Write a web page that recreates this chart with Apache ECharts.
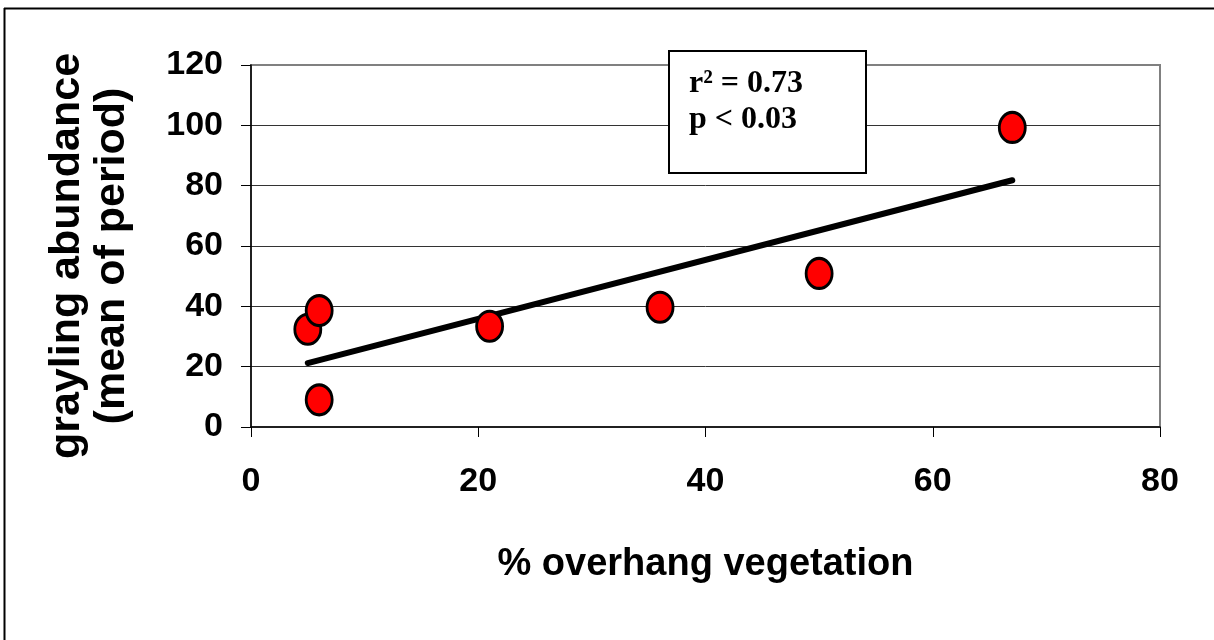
<!DOCTYPE html>
<html>
<head>
<meta charset="utf-8">
<script src="https://cdn.jsdelivr.net/npm/echarts@6/dist/echarts.min.js"></script>
<style>
html,body{margin:0;padding:0;background:#fff;}
#chart{width:1214px;height:640px;}
</style>
</head>
<body>
<div id="chart"></div>
<script>
// Data
const overhang = [5, 6, 6, 21, 36, 50, 67];             // % overhang vegetation
const grayling = [32.4, 38.6, 9, 33.4, 39.7, 50.9, 99.3]; // grayling abundance
const trendX = [5, 67];
const trendY = [21.2, 81.8];
const statsLines = ['r\u00B2 = 0.73', 'p < 0.03'];
const xTitle = '% overhang vegetation';
const yTitleLines = ['grayling abundance', '(mean of period)'];

const chart = echarts.init(document.getElementById('chart'), null, {renderer: 'canvas'});

const sansFont = "'Liberation Sans', Arial, sans-serif";

const option = {
  backgroundColor: '#fff',
  animation: false,
  grid: {
    left: 251, right: 54, top: 65, bottom: 213,
    show: true, borderColor: '#808080', borderWidth: 2, backgroundColor: 'transparent'
  },
  xAxis: {
    type: 'value', min: 0, max: 80, interval: 20,
    name: xTitle, nameLocation: 'middle', nameGap: 119,
    nameTextStyle: {fontFamily: sansFont, fontWeight: 'bold', fontSize: 38, color: '#000'},
    axisLine: {show: true, onZero: false, lineStyle: {color: '#000', width: 1.5}},
    axisTick: {show: true, inside: false, length: 10, lineStyle: {color: '#000', width: 1}},
    axisLabel: {margin: 38, fontFamily: sansFont, fontWeight: 'bold', fontSize: 34, color: '#000'},
    splitLine: {show: false}
  },
  yAxis: {
    type: 'value', min: 0, max: 120, interval: 20,
    axisLine: {show: true, onZero: false, lineStyle: {color: '#000', width: 1.5}},
    axisTick: {show: true, inside: false, length: 10, lineStyle: {color: '#000', width: 1}},
    axisLabel: {margin: 28, fontFamily: sansFont, fontWeight: 'bold', fontSize: 34, color: '#000'},
    splitLine: {show: true, showMinLine: false, showMaxLine: false, lineStyle: {color: '#333', width: 1}}
  },
  series: [
    {
      type: 'line',
      data: trendX.map((x, i) => [x, trendY[i]]),
      symbol: 'none',
      lineStyle: {color: '#000', width: 6, cap: 'round'},
      z: 3,
      silent: true
    },
    {
      type: 'scatter',
      data: overhang.map((x, i) => [x, grayling[i]]),
      symbol: 'circle',
      symbolSize: [26, 30],
      itemStyle: {color: '#ff0000', borderColor: '#000', borderWidth: 3, opacity: 1},
      z: 4
    }
  ],
  graphic: [
    // outer frame (left and top edges visible)
    {type: 'line', shape: {x1: 4.5, y1: 8, x2: 4.5, y2: 640}, style: {stroke: '#000', lineWidth: 2}, z: 10},
    {type: 'line', shape: {x1: 4, y1: 8.5, x2: 1214, y2: 8.5}, style: {stroke: '#000', lineWidth: 2}, z: 10},
    // statistics box
    {type: 'rect', shape: {x: 669, y: 51, width: 197, height: 122},
     style: {fill: '#fff', stroke: '#000', lineWidth: 2}, z: 20},
    {type: 'text', x: 689, y: 66, z: 21,
     style: {text: statsLines.join('\n'), fill: '#000',
             font: "bold 32px 'Liberation Serif', 'Times New Roman', serif",
             lineHeight: 36, align: 'left', verticalAlign: 'top'}},
    // y axis title
    {type: 'text', x: 90, y: 256, rotation: Math.PI / 2, z: 21,
     style: {text: yTitleLines.join('\n'), fill: '#000',
             font: "bold 43px 'Liberation Sans', Arial, sans-serif",
             lineHeight: 45, align: 'center', verticalAlign: 'middle'}}
  ]
};
chart.setOption(option);
</script>
</body>
</html>
